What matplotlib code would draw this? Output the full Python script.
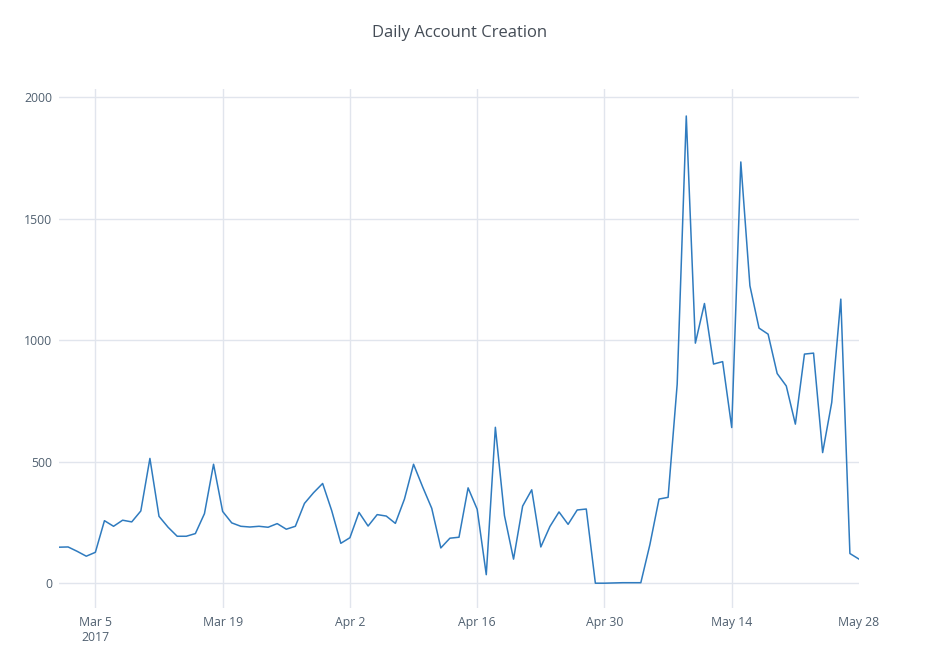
import matplotlib
matplotlib.use("Agg")

import matplotlib.pyplot as plt
import numpy as np

# daily counts, Mar 1 - May 28 2017
march = [149, 150, 132, 112, 128, 258, 235, 260, 253, 298, 514, 276, 231, 194, 194, 205,
         287, 490, 296, 249, 235, 232, 235, 231, 246, 223, 235, 329, 373, 411, 299]
april = [165, 188, 292, 236, 283, 277, 247, 347, 490, 397, 309, 146, 186, 190, 393, 305,
         36, 642, 279, 100, 318, 385, 150, 234, 294, 243, 302, 306, 1, 1]
may = [2, 3, 3, 3, 160, 347, 354, 819, 1922, 988, 1151, 902, 912, 641, 1733, 1224, 1050,
       1025, 863, 812, 655, 943, 947, 538, 744, 1169, 123, 100]

counts = march + april + may
dates = np.arange(np.datetime64("2017-03-01"), np.datetime64("2017-05-29"))

tick_dates = np.arange(np.datetime64("2017-03-05"), np.datetime64("2017-05-29"), 14)
tick_labels = ["Mar 5\n2017", "Mar 19", "Apr 2", "Apr 16", "Apr 30", "May 14", "May 28"]
y_ticks = [0, 500, 1000, 1500, 2000]

plt.rcParams["font.family"] = ["Open Sans", "DejaVu Sans"]
text_color = "#506070"
grid_color = "#e1e5ed"

fig = plt.figure(figsize=(9.34, 6.55), dpi=100)
ax = fig.add_axes([59 / 934, 1 - 608 / 655, 800 / 934, 519 / 655])

ax.plot(dates.astype(object), counts, color="#2f7bbf", lw=1.1)

ax.set_xlim(dates[0].astype(object), dates[-1].astype(object))
ax.set_ylim(-101, 2033)
ax.set_xticks([d.astype(object) for d in tick_dates])
ax.set_xticklabels(tick_labels)
ax.set_yticks(y_ticks)
ax.set_yticklabels([str(v) for v in y_ticks])

ax.grid(True, color=grid_color, lw=1)
ax.set_axisbelow(True)
# no gridline on the right edge (May 28)
ax.get_xgridlines()[-1].set_visible(False)
for s in ax.spines.values():
    s.set_visible(False)
ax.tick_params(length=0, colors=text_color, labelsize=8.8)
ax.tick_params(axis="x", pad=6)
ax.tick_params(axis="y", pad=5)

fig.text(459.5 / 934, 1 - 33 / 655, "Daily Account Creation", ha="center", va="center",
         fontsize=12, color="#444c56")

fig.savefig("out.png", dpi=100, facecolor="white")
plt.close(fig)
